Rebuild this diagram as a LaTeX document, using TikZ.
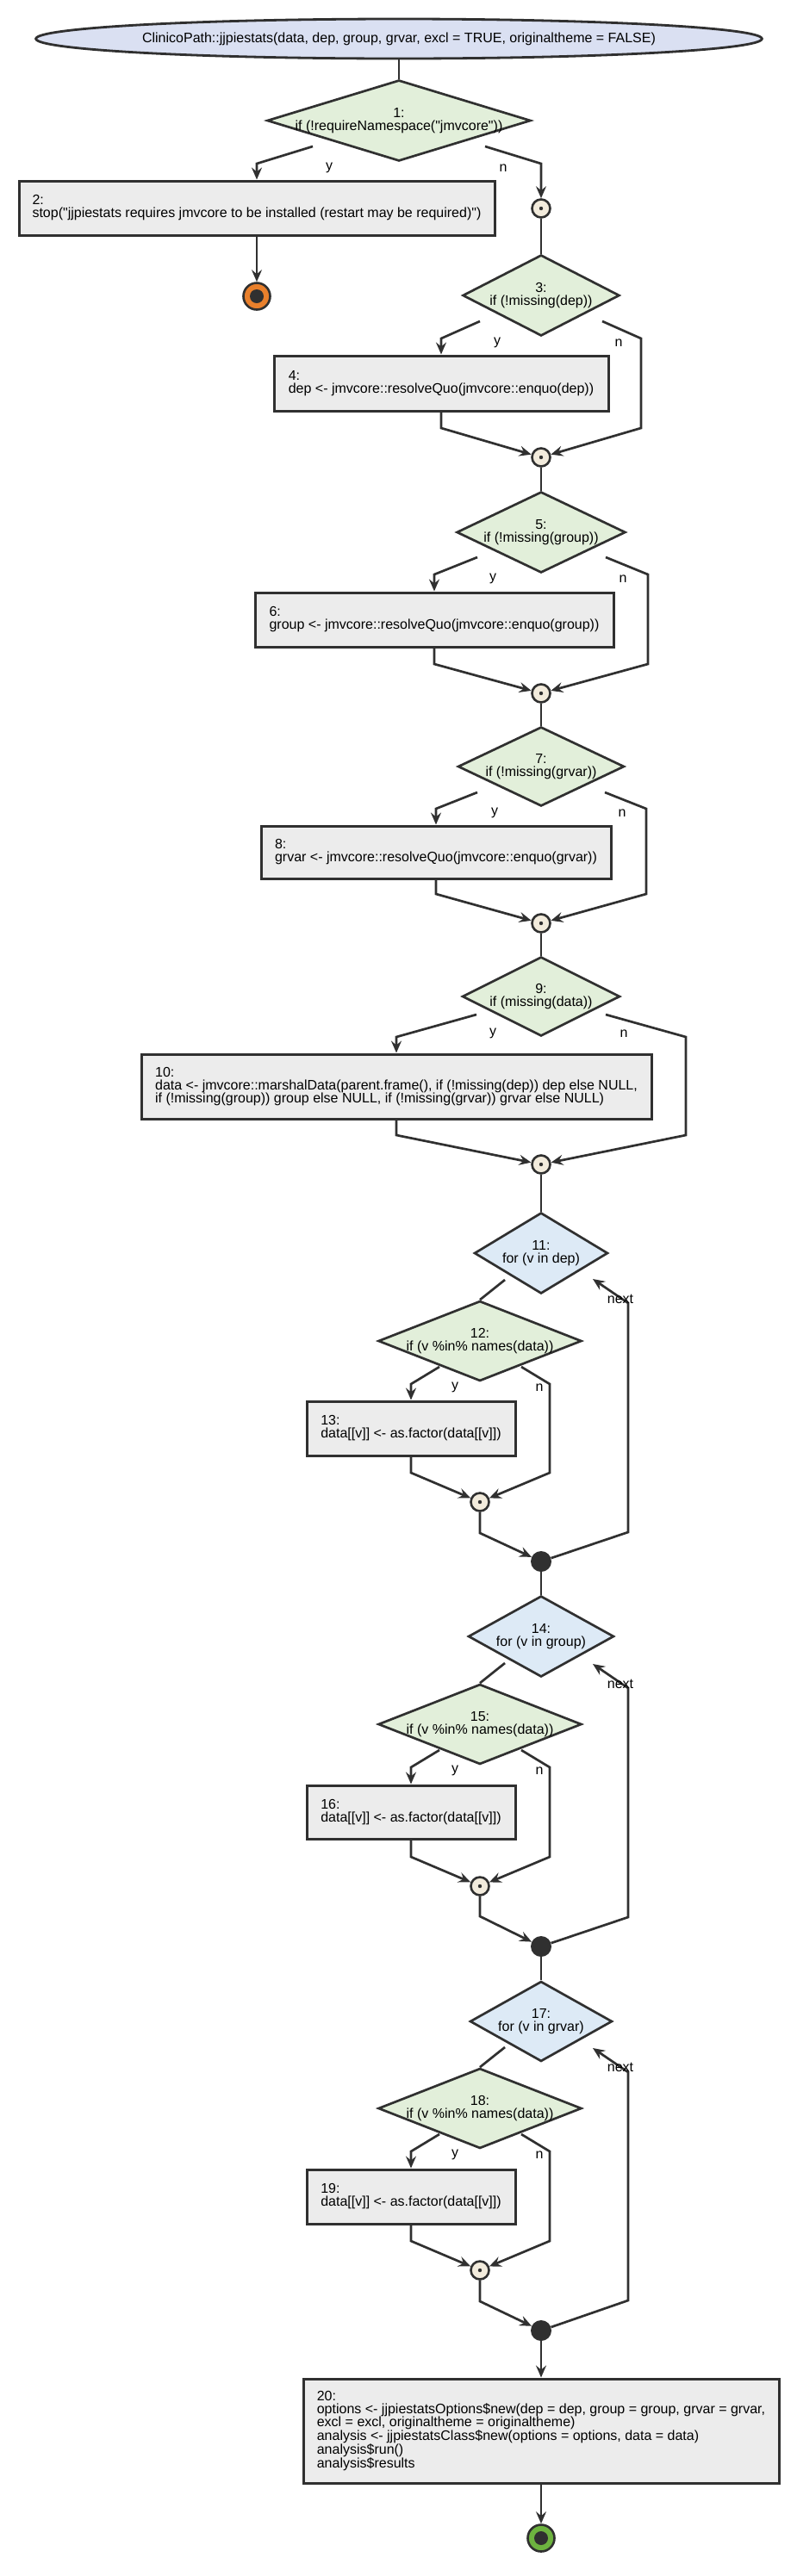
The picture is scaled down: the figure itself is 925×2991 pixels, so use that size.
\documentclass[tikz,border=0pt]{standalone}
\usepackage{fontspec}
\newfontfamily\dfont{Liberation Sans}
\usetikzlibrary{shapes.geometric,arrows.meta}
\definecolor{dk}{HTML}{303030}
\definecolor{ifg}{HTML}{E2EFDA}
\definecolor{forb}{HTML}{DDEAF6}
\definecolor{boxg}{HTML}{ECECEC}
\definecolor{cream}{HTML}{F2EBDC}
\definecolor{startb}{HTML}{DAE0F2}
\definecolor{stoporange}{HTML}{E9802C}
\definecolor{endgreen}{HTML}{6DB33F}
\newcommand\dsize{\dfont\fontsize{16}{15}\selectfont}
\tikzset{
  ln/.style={draw=dk, line width=2.7pt, line join=miter},
  arr/.style={ln, -{Stealth[length=14pt,width=12pt,inset=5pt]}},
  startnode/.style={ellipse, draw=dk, line width=2.8pt, fill=startb, inner sep=0pt, font=\dsize},
  box/.style={rectangle, draw=dk, line width=3pt, fill=boxg, align=left, inner sep=0pt, font=\dsize},
  ifd/.style={diamond, draw=dk, line width=2.7pt, fill=ifg, inner sep=0pt},
  ford/.style={diamond, draw=dk, line width=2.7pt, fill=forb, inner sep=0pt},
  dtext/.style={align=center, inner sep=0pt, font=\dsize},
  elabel/.style={inner sep=0pt, font=\dsize},
  junc/.style={circle, draw=dk, line width=2.6pt, fill=cream, minimum size=21pt, inner sep=0pt,
    path picture={\fill[dk] (path picture bounding box.center) circle (2.2pt);}},
  loopdot/.style={circle, fill=dk, minimum size=24pt, inner sep=0pt},
  stopnode/.style={circle, draw=dk, line width=2.6pt, fill=stoporange, minimum size=31pt, inner sep=0pt,
    path picture={\fill[dk] (path picture bounding box.center) circle (8pt);}},
  endnode/.style={circle, draw=dk, line width=2.6pt, fill=endgreen, minimum size=31pt, inner sep=0pt,
    path picture={\fill[dk] (path picture bounding box.center) circle (8pt);}}
}
\begin{document}
\begin{tikzpicture}[x=1pt,y=-1pt]
\useasboundingbox (0,0) rectangle (925,2991);

% ---------- nodes ----------
\node[startnode, minimum width=626pt, minimum height=46pt] (start) at (463,45)
  {ClinicoPath::jjpiestats(data, dep, group, grvar, excl = TRUE, originaltheme = FALSE)};

\node[ifd, minimum width=306pt, minimum height=94pt] (d1) at (463,140) {};
\node[dtext] (d1t) at (d1) {1:\\if (!requireNamespace("jmvcore"))};
\node[box, minimum width=552pt, minimum height=63pt] (b2) at (298,241.5)
  {2:\\stop("jjpiestats requires jmvcore to be installed (restart may be required)")};
\node[stopnode] (end1) at (298,344) {};
\node[junc] (j1) at (628,242) {};

\node[ifd, minimum width=182pt, minimum height=94pt] (d3) at (628,343) {};
\node[dtext] (d3t) at (d3) {3:\\if (!missing(dep))};
\node[box, minimum width=388pt, minimum height=64pt] (b4) at (512,445)
  {4:\\dep <- jmvcore::resolveQuo(jmvcore::enquo(dep))};
\node[junc] (j3) at (628,531) {};

\node[ifd, minimum width=196pt, minimum height=94pt] (d5) at (628,618) {};
\node[dtext] (d5t) at (d5) {5:\\if (!missing(group))};
\node[box, minimum width=416pt, minimum height=63pt] (b6) at (504,719.5)
  {6:\\group <- jmvcore::resolveQuo(jmvcore::enquo(group))};
\node[junc] (j5) at (628,805) {};

\node[ifd, minimum width=193pt, minimum height=92pt] (d7) at (628,890) {};
\node[dtext] (d7t) at (d7) {7:\\if (!missing(grvar))};
\node[box, minimum width=406pt, minimum height=61pt] (b8) at (506,989.5)
  {8:\\grvar <- jmvcore::resolveQuo(jmvcore::enquo(grvar))};
\node[junc] (j7) at (628,1072) {};

\node[ifd, minimum width=183pt, minimum height=92pt] (d9) at (628,1157) {};
\node[dtext] (d9t) at (d9) {9:\\if (missing(data))};
\node[box, minimum width=592pt, minimum height=75pt] (b10) at (460,1261.5)
  {10:\\data <- jmvcore::marshalData(parent.frame(), if (!missing(dep)) dep else NULL,\\if (!missing(group)) group else NULL, if (!missing(grvar)) grvar else NULL)};
\node[junc] (j9) at (628,1352) {};

% loop 1
\node[ford, minimum width=155pt, minimum height=94pt] (d11) at (628,1455) {};
\node[dtext] (d11t) at (d11) {11:\\for (v in dep)};
\node[ifd, minimum width=236pt, minimum height=93pt] (d12) at (557,1557) {};
\node[dtext] (d12t) at (d12) {12:\\if (v \%in\% names(data))};
\node[box, minimum width=242pt, minimum height=63pt] (b13) at (477,1658.5)
  {13:\\data[[v]] <- as.factor(data[[v]])};
\node[junc] (j12) at (557,1744) {};
\node[loopdot] (l11) at (628,1813) {};

% loop 2
\node[ford, minimum width=169pt, minimum height=94pt] (d14) at (628,1900) {};
\node[dtext] (d14t) at (d14) {14:\\for (v in group)};
\node[ifd, minimum width=236pt, minimum height=93pt] (d15) at (557,2002) {};
\node[dtext] (d15t) at (d15) {15:\\if (v \%in\% names(data))};
\node[box, minimum width=242pt, minimum height=62pt] (b16) at (477,2104)
  {16:\\data[[v]] <- as.factor(data[[v]])};
\node[junc] (j15) at (557,2190) {};
\node[loopdot] (l14) at (628,2260) {};

% loop 3
\node[ford, minimum width=165pt, minimum height=93pt] (d17) at (628,2347) {};
\node[dtext] (d17t) at (d17) {17:\\for (v in grvar)};
\node[ifd, minimum width=236pt, minimum height=93pt] (d18) at (557,2448) {};
\node[dtext] (d18t) at (d18) {18:\\if (v \%in\% names(data))};
\node[box, minimum width=242pt, minimum height=63pt] (b19) at (477,2550.5)
  {19:\\data[[v]] <- as.factor(data[[v]])};
\node[junc] (j18) at (557,2636) {};
\node[loopdot] (l17) at (628,2706) {};

\node[box, minimum width=552pt, minimum height=121pt] (b20) at (628,2822.5)
  {20:\\options <- jjpiestatsOptions\$new(dep = dep, group = group, grvar = grvar,\\excl = excl, originaltheme = originaltheme)\\analysis <- jjpiestatsClass\$new(options = options, data = data)\\analysis\$run()\\analysis\$results};
\node[endnode] (end2) at (628,2947) {};

% ---------- connector ports ----------
\coordinate (c1y) at (363,170);  \coordinate (c1n) at (563,170);
\coordinate (c3y) at (557,373);  \coordinate (c3n) at (699,373);
\coordinate (c5y) at (554,647);  \coordinate (c5n) at (703,647);
\coordinate (c7y) at (554,920);  \coordinate (c7n) at (702,920);
\coordinate (c9y) at (553,1178); \coordinate (c9n) at (703,1178);
\coordinate (c11) at (586,1486); \coordinate (c11x) at (688,1485);
\coordinate (c12y) at (510,1587); \coordinate (c12n) at (605,1587);
\coordinate (c14) at (586,1931); \coordinate (c14x) at (688,1932);
\coordinate (c15y) at (510,2032); \coordinate (c15n) at (605,2032);
\coordinate (c17) at (586,2377); \coordinate (c17x) at (688,2378);
\coordinate (c18y) at (510,2478); \coordinate (c18n) at (605,2478);

% ---------- connectors ----------
\draw[ln] (start) -- (d1);
\draw[arr] (c1y) -- (298,190) -- (b2);
\draw[arr] (c1n) -- (628,190) -- (j1);
\draw[arr] (b2) -- (end1);
\draw[ln] (j1) -- (d3);

\draw[arr] (c3y) -- (512,393) -- (b4);
\draw[arr] (c3n) -- (744,393) -- (744,497) -- (j3);
\draw[arr] (b4) -- (512,497) -- (j3);
\draw[ln] (j3) -- (d5);

\draw[arr] (c5y) -- (504,667) -- (b6);
\draw[arr] (c5n) -- (752,667) -- (752,771) -- (j5);
\draw[arr] (b6) -- (504,771) -- (j5);
\draw[ln] (j5) -- (d7);

\draw[arr] (c7y) -- (506,939) -- (b8);
\draw[arr] (c7n) -- (750,939) -- (750,1038) -- (j7);
\draw[arr] (b8) -- (506,1038) -- (j7);
\draw[ln] (j7) -- (d9);

\draw[arr] (c9y) -- (460,1204) -- (b10);
\draw[arr] (c9n) -- (796,1204) -- (796,1318) -- (j9);
\draw[arr] (b10) -- (460,1318) -- (j9);
\draw[ln] (j9) -- (d11);

\draw[ln] (c11) -- (d12.north);
\draw[arr] (c12y) -- (477,1607) -- (b13);
\draw[arr] (c12n) -- (638,1607) -- (638,1710) -- (j12);
\draw[arr] (b13) -- (477,1710) -- (j12);
\draw[arr] (j12) -- (557,1780) -- (l11);
\draw[arr] (l11) -- (729,1779) -- (729,1513) -- (c11x);
\draw[ln] (l11) -- (d14);

\draw[ln] (c14) -- (d15.north);
\draw[arr] (c15y) -- (477,2052) -- (b16);
\draw[arr] (c15n) -- (638,2052) -- (638,2156) -- (j15);
\draw[arr] (b16) -- (477,2156) -- (j15);
\draw[arr] (j15) -- (557,2225) -- (l14);
\draw[arr] (l14) -- (729,2226) -- (729,1960) -- (c14x);
\draw[ln] (l14) -- (d17);

\draw[ln] (c17) -- (d18.north);
\draw[arr] (c18y) -- (477,2498) -- (b19);
\draw[arr] (c18n) -- (638,2498) -- (638,2602) -- (j18);
\draw[arr] (b19) -- (477,2602) -- (j18);
\draw[arr] (j18) -- (557,2672) -- (l17);
\draw[arr] (l17) -- (729,2671) -- (729,2406) -- (c17x);
\draw[arr] (l17) -- (b20);
\draw[arr] (b20) -- (end2);

% ---------- edge labels ----------
\node[elabel] (ly1) at (382,195) {y};   \node[elabel] (ln1) at (584,195) {n};
\node[elabel] (ly3) at (577,398) {y};   \node[elabel] (ln3) at (718,398) {n};
\node[elabel] (ly5) at (572,672) {y};   \node[elabel] (ln5) at (723,672) {n};
\node[elabel] (ly7) at (574,944) {y};   \node[elabel] (ln7) at (722,944) {n};
\node[elabel] (ly9) at (572,1200) {y};  \node[elabel] (ln9) at (724,1200) {n};
\node[elabel] (ly12) at (528,1611) {y}; \node[elabel] (ln12) at (626,1611) {n};
\node[elabel] (ly15) at (528,2056) {y}; \node[elabel] (ln15) at (626,2056) {n};
\node[elabel] (ly18) at (528,2502) {y}; \node[elabel] (ln18) at (626,2502) {n};
\node[elabel] (nx11) at (720,1508) {next};
\node[elabel] (nx14) at (720,1955) {next};
\node[elabel] (nx17) at (720,2400) {next};
\end{tikzpicture}
\end{document}
